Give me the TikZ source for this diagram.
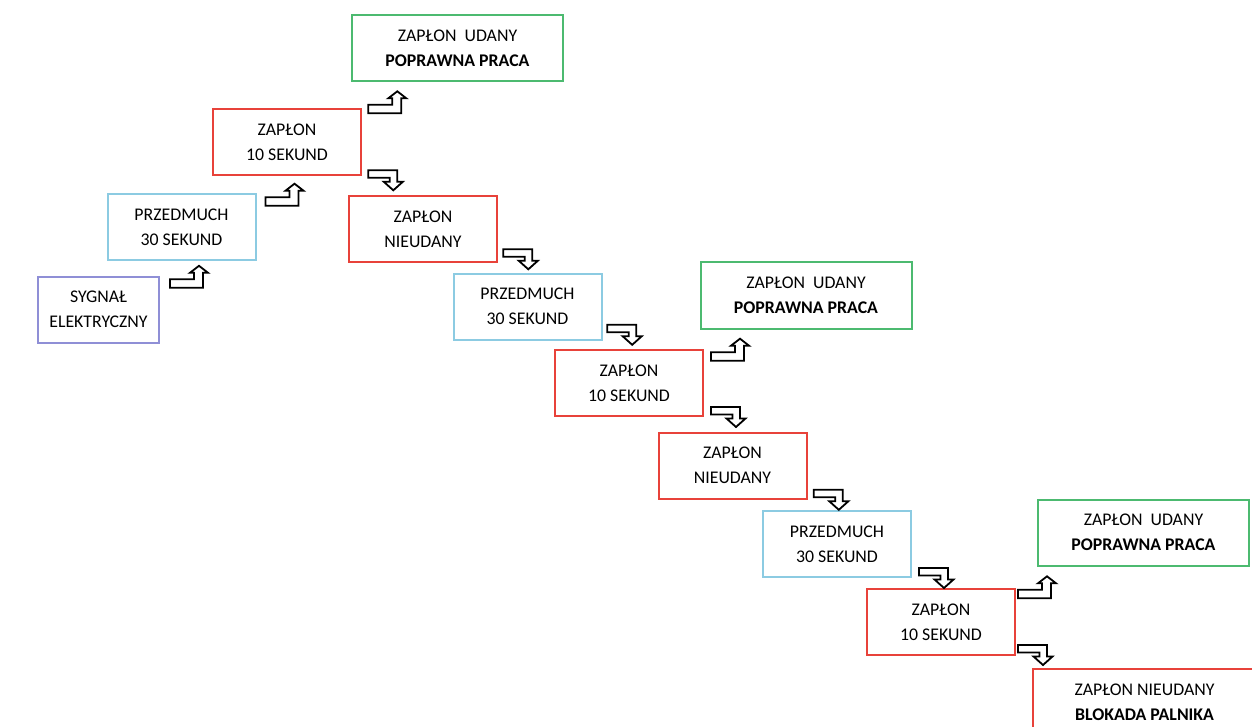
\documentclass[tikz,border=0pt]{standalone}
\usepackage{fontspec}
\setmainfont{Carlito}
\usetikzlibrary{positioning,calc}
\definecolor{sygblue}{RGB}{143,143,214}
\definecolor{purgeblue}{RGB}{140,203,226}
\definecolor{ignred}{RGB}{232,66,58}
\definecolor{okgreen}{RGB}{76,186,112}

\begin{document}
\begin{tikzpicture}[x=0.5pt,y=-0.5pt,
box/.style={draw,line width=1pt,align=center,minimum width=74pt,minimum height=33pt,inner sep=1pt,font=\fontsize{8.9}{12.3}\selectfont},
sygbox/.style={box,draw=sygblue,minimum width=60.5pt},
purgebox/.style={box,draw=purgeblue},
ignbox/.style={box,draw=ignred},
okbox/.style={box,draw=okgreen,minimum width=105.5pt},
upturn/.pic={\draw[line width=0.9pt,line join=miter] (0,0) -- (33,0) -- (33,-15) -- (38,-15) -- (29,-22) -- (20,-15) -- (24,-15) -- (24,-8.5) -- (0,-8.5) -- cycle;},
downturn/.pic={\draw[line width=0.9pt,line join=miter] (0,0) -- (29,0) -- (29,11.5) -- (34.5,11.5) -- (25,20) -- (15.5,11.5) -- (21.5,11.5) -- (21.5,7.5) -- (0,7.5) -- cycle;},
]
\useasboundingbox (0,0) rectangle (1252,727);

% first try
\node[sygbox] (syg) at (98.5,309.5) {SYGNAŁ\\ELEKTRYCZNY};
\node[purgebox] (purge1) at (181.5,227) {PRZEDMUCH\\30 SEKUND};
\node[ignbox] (ign1) at (287,142) {ZAPŁON\\10 SEKUND};
\node[okbox] (ok1) at (457.5,48.5) {ZAPŁON\ \ UDANY\\\textbf{POPRAWNA PRACA}};
\node[ignbox] (fail1) at (423,229) {ZAPŁON\\NIEUDANY};

% second try
\node[purgebox] (purge2) at (527.5,306.5) {PRZEDMUCH\\30 SEKUND};
\node[okbox] (ok2) at (806,295.5) {ZAPŁON\ \ UDANY\\\textbf{POPRAWNA PRACA}};
\node[ignbox] (ign2) at (629,383) {ZAPŁON\\10 SEKUND};
\node[ignbox] (fail2) at (732.5,465.5) {ZAPŁON\\NIEUDANY};

% third try
\node[purgebox] (purge3) at (837,544) {PRZEDMUCH\\30 SEKUND};
\node[okbox] (ok3) at (1143.5,532.5) {ZAPŁON\ \ UDANY\\\textbf{POPRAWNA PRACA}};
\node[ignbox] (ign3) at (941,622) {ZAPŁON\\10 SEKUND};
\node[ignbox,minimum width=112pt] (lock) at (1144.5,702) {ZAPŁON NIEUDANY\\\textbf{BLOKADA PALNIKA}};

% arrows
\pic at ([shift={(10,12.3)}]syg.north east) {upturn};
\pic at ([shift={(9,12.7)}]purge1.north east) {upturn};
\pic at ([shift={(6.3,5.3)}]ign1.north east) {upturn};
\pic at ([shift={(7,11.7)}]ign2.north east) {upturn};
\pic at ([shift={(2,10.3)}]ign3.north east) {upturn};
\pic at ([shift={(6.3,-5.7)}]ign1.south east) {downturn};
\pic at ([shift={(5.3,-13.7)}]fail1.south east) {downturn};
\pic at ([shift={(4.7,-15.7)}]purge2.south east) {downturn};
\pic at ([shift={(7,-10)}]ign2.south east) {downturn};
\pic at ([shift={(6.3,-9.7)}]fail2.south east) {downturn};
\pic at ([shift={(7,-10)}]purge3.south east) {downturn};
\pic at ([shift={(2,-11)}]ign3.south east) {downturn};
\end{tikzpicture}
\end{document}
